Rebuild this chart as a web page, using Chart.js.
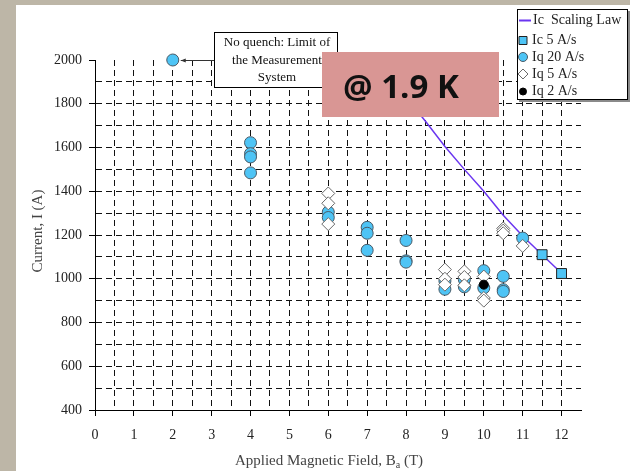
<!DOCTYPE html>
<html><head><meta charset="utf-8">
<script src="https://cdn.jsdelivr.net/npm/chart.js@4/dist/chart.umd.min.js"></script>
<style>html,body{margin:0;padding:0;background:#fff;} canvas{display:block;}</style>
</head><body>
<canvas id="c" width="630" height="471"></canvas>
<script>
// ---- data ----
const seriesNames = ['Ic  Scaling Law', 'Ic 5 A/s', 'Iq 20 A/s', 'Iq 5 A/s', 'Iq 2 A/s'];
const scalingField   = [8, 8.5, 9, 9.5, 10, 10.5, 11, 11.5, 12];
const scalingCurrent = [1830, 1720, 1605, 1500, 1400, 1290, 1195, 1110, 1025];
const ic5Field   = [11.5, 12];
const ic5Current = [1110, 1024];
const iq20Field   = [2, 4, 4, 4, 4, 6, 6, 7, 7, 7, 8, 8, 8, 9, 9, 9.5, 9.5, 10, 10, 10.5, 10.5, 10.5, 11];
const iq20Current = [2000, 1622, 1572, 1557, 1484, 1305, 1280, 1235, 1208, 1130, 1175, 1082, 1076, 990, 952, 996, 963, 1037, 958, 1011, 950, 942, 1186];
const iq5Field   = [6, 6, 6, 9, 9, 9, 9.5, 9.5, 9.5, 10, 10, 10, 10.5, 10.5, 10.5, 11];
const iq5Current = [1390, 1345, 1250, 1042, 1000, 973, 1034, 1008, 970, 1010, 912, 900, 1230, 1220, 1208, 1150];
const iq2Field   = [10];
const iq2Current = [973];
const xTickLabels = ['0','1','2','3','4','5','6','7','8','9','10','11','12'];
const yTickLabels = ['400','600','800','1000','1200','1400','1600','1800','2000'];
const xTitle = ['Applied Magnetic Field, B', 'a', ' (T)'];
const yTitle = 'Current, I (A)';
const noteLines = ['No quench: Limit of', 'the Measurement', 'System'];
const tempLabel = '@ 1.9 K';

const pts = (xs, ys) => xs.map((x, i) => ({x: x, y: ys[i]}));
const SERIF = '"Liberation Serif", "DejaVu Serif", serif';
const BLUE = '#4ec4f5';

const datasets = [
  {label: seriesNames[0], data: pts(scalingField, scalingCurrent), showLine: true, borderColor: '#6a35f0', borderWidth: 1.5, pointRadius: 0, order: 4, clip: false},
  {label: seriesNames[1], data: pts(ic5Field, ic5Current), pointStyle: 'rect', pointRadius: 7, backgroundColor: BLUE, borderColor: '#222', borderWidth: 1, order: 3, clip: false},
  {label: seriesNames[2], data: pts(iq20Field, iq20Current), pointStyle: 'circle', pointRadius: 6, backgroundColor: BLUE, borderColor: '#4a5a66', borderWidth: 1, order: 2, clip: false},
  {label: seriesNames[3], data: pts(iq5Field, iq5Current), pointStyle: 'rectRot', pointRadius: 6.5, backgroundColor: '#ffffff', borderColor: '#6a6a6a', borderWidth: 1, order: 1, clip: false},
  {label: seriesNames[4], data: pts(iq2Field, iq2Current), pointStyle: 'circle', pointRadius: 4.5, backgroundColor: '#000', borderColor: '#000', borderWidth: 1, order: 0, clip: false}
];

const decor = {
  id: 'decor',
  beforeDraw(chart) {
    const ctx = chart.ctx;
    ctx.save();
    ctx.fillStyle = '#bdb6a7';
    ctx.fillRect(0, 0, chart.width, chart.height);
    ctx.fillStyle = '#ffffff';
    ctx.fillRect(16, 5, chart.width - 16, chart.height - 5);
    ctx.restore();
  },
  afterDraw(chart) {
    const ctx = chart.ctx;
    const xs = chart.scales.x, ys = chart.scales.y;
    ctx.save();
    // x axis title with subscript
    ctx.fillStyle = '#444';
    ctx.textBaseline = 'alphabetic';
    ctx.font = '15px ' + SERIF;
    const w1 = ctx.measureText(xTitle[0]).width;
    ctx.font = '10px ' + SERIF;
    const w2 = ctx.measureText(xTitle[1]).width;
    ctx.font = '15px ' + SERIF;
    const w3 = ctx.measureText(xTitle[2]).width;
    let tx = 329 - (w1 + w2 + w3) / 2;
    const ty = 465;
    ctx.textAlign = 'left';
    ctx.fillText(xTitle[0], tx, ty);
    ctx.font = '10px ' + SERIF;
    ctx.fillText(xTitle[1], tx + w1, ty + 3);
    ctx.font = '15px ' + SERIF;
    ctx.fillText(xTitle[2], tx + w1 + w2, ty);
    // y axis title
    ctx.save();
    ctx.translate(42, 231);
    ctx.rotate(-Math.PI / 2);
    ctx.textAlign = 'center';
    ctx.fillText(yTitle, 0, 0);
    ctx.restore();

    // annotation box
    ctx.fillStyle = '#fff';
    ctx.fillRect(214, 32, 124, 56);
    ctx.strokeStyle = '#000';
    ctx.lineWidth = 1;
    ctx.strokeRect(214.5, 32.5, 123, 55);
    ctx.fillStyle = '#111';
    ctx.font = '13px ' + SERIF;
    ctx.textAlign = 'center';
    ctx.fillText(noteLines[0], 277, 46);
    ctx.fillText(noteLines[1], 277, 64);
    ctx.fillText(noteLines[2], 277, 81);
    // arrow to the capped point
    const px = xs.getPixelForValue(iq20Field[0]) + 8;
    const py = Math.round(ys.getPixelForValue(iq20Current[0])) + 0.5;
    ctx.strokeStyle = '#333';
    ctx.beginPath();
    ctx.moveTo(214, py);
    ctx.lineTo(px, py);
    ctx.stroke();
    ctx.fillStyle = '#333';
    ctx.beginPath();
    ctx.moveTo(px, py);
    ctx.lineTo(px + 5, py - 2);
    ctx.lineTo(px + 5, py + 2);
    ctx.closePath();
    ctx.fill();

    // temperature label
    ctx.fillStyle = '#d99694';
    ctx.fillRect(322, 52, 177, 65);
    ctx.fillStyle = '#111';
    ctx.font = 'bold 33px "Open Sans", "DejaVu Sans", sans-serif';
    ctx.textAlign = 'left';
    ctx.fillText(tempLabel, 343, 98);

    // legend
    ctx.fillStyle = '#8a8a8a';
    ctx.fillRect(519, 11, 111, 91);
    ctx.fillStyle = '#fff';
    ctx.fillRect(517, 9, 111, 91);
    ctx.strokeStyle = '#000';
    ctx.strokeRect(517.5, 9.5, 110, 90);
    const rows = [20.5, 40.5, 57, 74, 91.5];
    const sx = 523;
    ctx.font = '14px ' + SERIF;
    ctx.textBaseline = 'middle';
    chart.data.datasets.forEach((ds, i) => {
      const y = rows[i];
      ctx.save();
      ctx.lineWidth = 1;
      if (i === 0) {
        ctx.strokeStyle = ds.borderColor;
        ctx.lineWidth = 2;
        ctx.beginPath();
        ctx.moveTo(519, y);
        ctx.lineTo(531, y);
        ctx.stroke();
      } else {
        ctx.fillStyle = ds.backgroundColor;
        ctx.strokeStyle = ds.borderColor;
        ctx.beginPath();
        if (ds.pointStyle === 'rect') {
          ctx.rect(sx - 4, y - 4, 8, 8);
        } else if (ds.pointStyle === 'rectRot') {
          ctx.moveTo(sx - 5, y); ctx.lineTo(sx, y - 5); ctx.lineTo(sx + 5, y); ctx.lineTo(sx, y + 5); ctx.closePath();
        } else {
          ctx.arc(sx, y, i === 4 ? 3.5 : 4.5, 0, Math.PI * 2);
        }
        ctx.fill();
        ctx.stroke();
      }
      ctx.restore();
      ctx.fillStyle = '#222';
      ctx.fillText(ds.label, i === 0 ? 533 : 532, y);
    });
    ctx.restore();
  }
};

const isInt = v => Math.abs(v - Math.round(v)) < 1e-6;

new Chart(document.getElementById('c'), {
  type: 'scatter',
  data: {datasets: datasets},
  plugins: [decor],
  options: {
    responsive: false,
    animation: false,
    devicePixelRatio: 1,
    layout: {padding: {left: 0, top: 60, right: 49, bottom: 0}},
    plugins: {legend: {display: false}, tooltip: {enabled: false}, title: {display: false}},
    scales: {
      x: {
        type: 'linear', min: 0, max: 12.5,
        afterFit: s => { s.height = 61; },
        ticks: {
          stepSize: 0.5, autoSkip: false, maxRotation: 0, padding: 11,
          color: '#222', font: {family: SERIF, size: 14},
          callback: v => isInt(v) ? xTickLabels[Math.round(v)] : ''
        },
        grid: {
          color: c => (c.tick && (c.tick.value === 0 || c.tick.value === 12.5)) ? 'rgba(0,0,0,0)' : '#111',
          lineWidth: 1, tickLength: 6,
          tickColor: c => (c.tick && isInt(c.tick.value)) ? '#000' : 'rgba(0,0,0,0)'
        },
        border: {display: true, color: '#000', width: 1, dash: [6, 4]}
      },
      y: {
        type: 'linear', min: 400, max: 2000,
        afterFit: s => { s.width = 95; },
        ticks: {
          stepSize: 100, autoSkip: false, padding: 7,
          color: '#222', font: {family: SERIF, size: 14},
          callback: v => (v % 200 === 0) ? yTickLabels[(v - 400) / 200] : ''
        },
        grid: {
          color: c => (c.tick && (c.tick.value === 400 || c.tick.value === 2000)) ? 'rgba(0,0,0,0)' : '#111',
          lineWidth: 1, tickLength: 6,
          tickColor: c => (c.tick && c.tick.value % 200 === 0) ? '#000' : 'rgba(0,0,0,0)'
        },
        border: {display: true, color: '#000', width: 1, dash: [6, 4]}
      }
    }
  }
});
</script>
</body></html>
